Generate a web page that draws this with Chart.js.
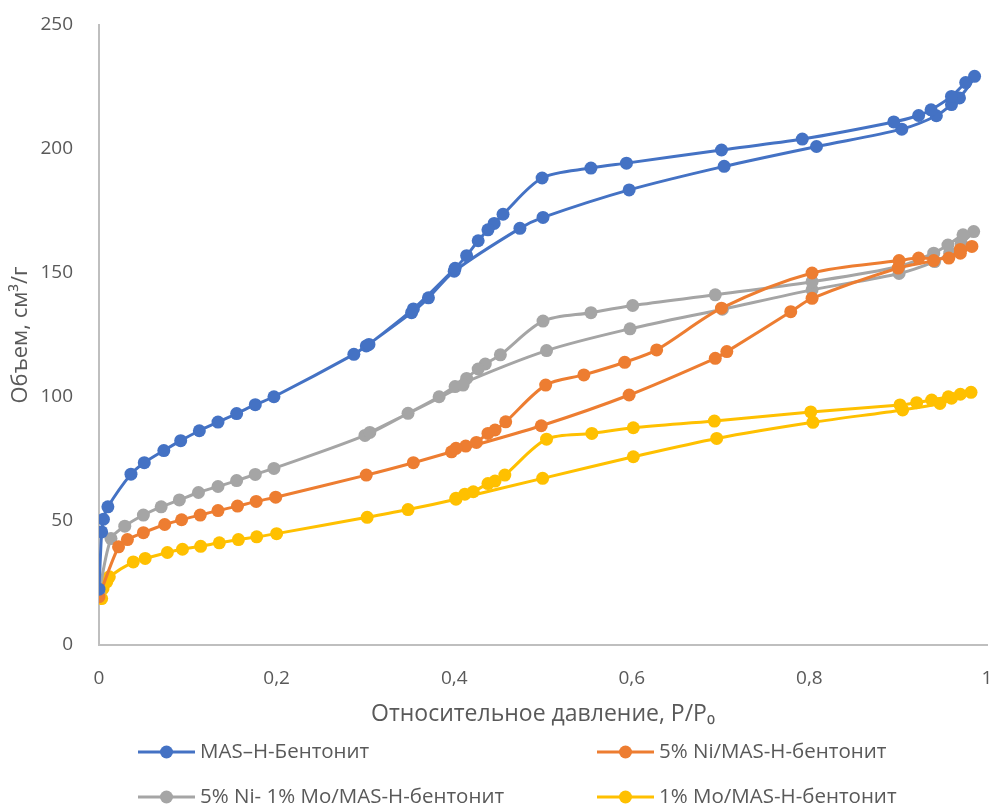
<!DOCTYPE html>
<html>
<head>
<meta charset="utf-8">
<script src="https://cdn.jsdelivr.net/npm/chart.js@4.4.1/dist/chart.umd.min.js"></script>
<style>
  html, body { margin: 0; padding: 0; background: #fff; }
  #wrap { width: 993px; height: 810px; }
</style>
</head>
<body>
<div id="wrap"><canvas id="isoChart" width="993" height="810"></canvas></div>
<script>
// Isotherm data: adsorption points first, then desorption going back down
const seriesNames = ['MAS–H-Бентонит', '5% Ni/MAS-H-бентонит', '5% Ni- 1% Mo/MAS-H-бентонит', '1% Mo/MAS-H-бентонит'];
const seriesColors = ['#4472C4', '#ED7D31', '#A5A5A5', '#FFC000'];

const masX = [0.000, 0.003, 0.005, 0.010, 0.036, 0.051, 0.073, 0.092, 0.113, 0.134, 0.155, 0.176, 0.197, 0.287, 0.301, 0.352, 0.371, 0.400, 0.474, 0.500, 0.597, 0.704, 0.808, 0.904, 0.943, 0.960, 0.969, 0.986,
              0.976, 0.960, 0.937, 0.923, 0.895, 0.792, 0.701, 0.594, 0.554, 0.499, 0.455, 0.445, 0.438, 0.427, 0.414, 0.401, 0.354, 0.304];
const masY = [22.5, 45.6, 50.7, 55.7, 68.9, 73.5, 78.4, 82.4, 86.4, 89.9, 93.3, 96.9, 100.1, 117.2, 120.6, 134.0, 140.0, 150.7, 168.0, 172.4, 183.5, 193.0, 201.0, 208.0, 213.4, 217.9, 220.6, 229.3,
              226.8, 221.2, 215.8, 213.5, 210.9, 204.0, 199.6, 194.3, 192.3, 188.3, 173.7, 170.0, 167.4, 163.0, 157.0, 151.9, 135.5, 121.2];

const niX = [0.000, 0.022, 0.032, 0.050, 0.074, 0.093, 0.114, 0.134, 0.156, 0.177, 0.199, 0.301, 0.354, 0.397, 0.498, 0.597, 0.694, 0.707, 0.779, 0.803, 0.900, 0.940, 0.970, 0.983,
             0.970, 0.957, 0.923, 0.901, 0.803, 0.701, 0.628, 0.592, 0.546, 0.503, 0.458, 0.446, 0.438, 0.425, 0.413, 0.402];
const niY = [19.5, 39.6, 42.5, 45.3, 48.6, 50.5, 52.4, 54.2, 56.0, 57.9, 59.6, 68.5, 73.5, 77.9, 88.4, 100.8, 115.6, 118.3, 134.4, 139.8, 152.0, 155.0, 158.0, 160.7,
             159.5, 156.0, 156.0, 155.0, 150.0, 135.8, 119.0, 114.0, 108.9, 104.8, 90.0, 86.7, 85.3, 81.7, 80.2, 79.3];

const niMoX = [0.000, 0.0135, 0.029, 0.050, 0.070, 0.0905, 0.112, 0.134, 0.155, 0.176, 0.197, 0.2995, 0.348, 0.383, 0.401, 0.504, 0.598, 0.702, 0.803, 0.901, 0.941, 0.958, 0.971, 0.985,
               0.973, 0.956, 0.940, 0.901, 0.803, 0.694, 0.601, 0.554, 0.500, 0.452, 0.435, 0.427, 0.414, 0.410, 0.305];
const niMoY = [21.0, 42.9, 47.9, 52.4, 55.7, 58.5, 61.5, 63.9, 66.3, 68.8, 71.2, 84.5, 93.4, 100.1, 104.2, 118.7, 127.5, 135.4, 143.2, 149.8, 154.6, 158.0, 162.0, 166.7,
               165.4, 161.3, 158.0, 152.6, 146.5, 141.2, 136.9, 134.0, 130.6, 117.0, 113.3, 111.3, 107.5, 104.8, 85.7];

const moX = [0.003, 0.0045, 0.0087, 0.0116, 0.0386, 0.052, 0.077, 0.094, 0.1145, 0.1355, 0.157, 0.1776, 0.200, 0.302, 0.348, 0.402, 0.4996, 0.6017, 0.6956, 0.804, 0.905, 0.947, 0.960, 0.982,
             0.970, 0.9565, 0.9377, 0.9208, 0.902, 0.8015, 0.693, 0.6017, 0.555, 0.504, 0.457, 0.446, 0.438, 0.4215, 0.412, 0.402];
const moY = [18.7, 22.7, 25.4, 27.5, 33.5, 34.9, 37.3, 38.6, 39.8, 41.2, 42.5, 43.6, 44.9, 51.5, 54.6, 58.8, 67.2, 75.9, 83.3, 89.8, 94.8, 97.4, 99.5, 101.9,
             101.1, 100.1, 98.8, 97.7, 96.8, 94.0, 90.3, 87.6, 85.3, 83.0, 68.5, 66.1, 65.1, 61.8, 60.8, 59.2];

const xTicks = [0, 0.2, 0.4, 0.6, 0.8, 1];
const yTicks = [0, 50, 100, 150, 200, 250];

const allX = [masX, niX, niMoX, moX];
const allY = [masY, niY, niMoY, moY];

const fontFamily = '"Open Sans", "DejaVu Sans", sans-serif';
const textColor = '#595959';
const axisColor = '#BFBFBF';

const datasets = seriesNames.map((name, i) => ({
    label: name,
    data: allX[i].map((x, j) => ({ x: x, y: allY[i][j] })),
    borderColor: seriesColors[i],
    backgroundColor: seriesColors[i],
    pointBackgroundColor: seriesColors[i],
    pointBorderColor: seriesColors[i],
    pointRadius: 6.5,
    pointBorderWidth: 0,
    borderWidth: 3,
    tension: 0.3,
    showLine: true
}));

// Legend drawn in two fixed columns, like the original
const gridLegend = {
    id: 'gridLegend',
    afterDraw(chart) {
        const ctx = chart.ctx;
        const cols = [138, 597];
        const rows = [752, 797];
        ctx.save();
        ctx.font = '20.5px ' + fontFamily;
        ctx.textBaseline = 'middle';
        seriesNames.forEach((name, i) => {
            const x = cols[i % 2];
            const y = rows[Math.floor(i / 2)];
            ctx.strokeStyle = seriesColors[i];
            ctx.lineWidth = 3;
            ctx.beginPath();
            ctx.moveTo(x, y);
            ctx.lineTo(x + 57, y);
            ctx.stroke();
            ctx.fillStyle = seriesColors[i];
            ctx.beginPath();
            ctx.arc(x + 28.5, y, 6.5, 0, Math.PI * 2);
            ctx.fill();
            ctx.fillStyle = textColor;
            ctx.fillText(name, x + 62, y);
        });
        ctx.restore();
    }
};

const fmt = v => String(Math.round(v * 10) / 10).replace('.', ',');

new Chart(document.getElementById('isoChart'), {
    type: 'scatter',
    data: { datasets: datasets },
    options: {
        responsive: false,
        animation: false,
        layout: { autoPadding: false, padding: { top: 25, right: 6, bottom: 79, left: 0 } },
        plugins: {
            legend: { display: false },
            tooltip: { enabled: false }
        },
        scales: {
            x: {
                type: 'linear',
                min: 0,
                max: 1,
                afterBuildTicks: s => { s.ticks = xTicks.map(v => ({ value: v })); },
                afterFit: s => { s.height = 86; s.paddingRight = 0; },
                grid: { display: false },
                border: { display: true, color: axisColor, width: 2 },
                ticks: { color: textColor, font: { family: fontFamily, size: 19 }, padding: 14, callback: v => fmt(v) },
                title: {
                    display: true,
                    text: 'Относительное давление, P/P₀',
                    color: textColor,
                    font: { family: fontFamily, size: 23 },
                    padding: { top: 4, bottom: 3 }
                }
            },
            y: {
                min: 0,
                max: 250,
                afterBuildTicks: s => { s.ticks = yTicks.map(v => ({ value: v })); },
                afterFit: s => { s.width = 99; s.paddingTop = 0; },
                grid: { display: false },
                border: { display: true, color: axisColor, width: 2 },
                ticks: { color: textColor, font: { family: fontFamily, size: 19 }, padding: 18 },
                title: {
                    display: true,
                    text: 'Объем, см³/г',
                    color: textColor,
                    font: { family: fontFamily, size: 22 },
                    padding: { top: 8, bottom: 0 }
                }
            }
        }
    },
    plugins: [gridLegend]
});
</script>
</body>
</html>
